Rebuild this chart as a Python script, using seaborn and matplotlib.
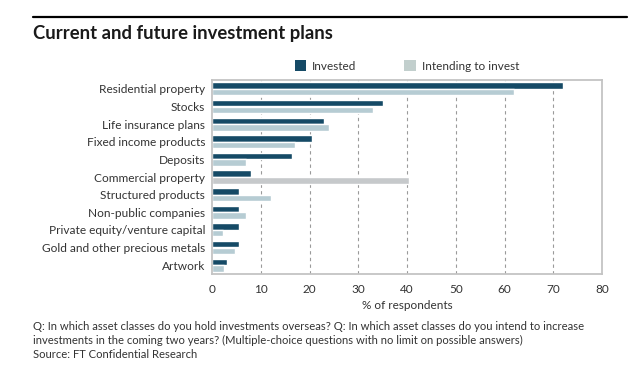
import numpy as np
import pandas as pd
import matplotlib
matplotlib.use("Agg")
import matplotlib.pyplot as plt
from matplotlib.patches import Patch
from matplotlib.lines import Line2D
import seaborn as sns

# Data
categories = ["Residential property", "Stocks", "Life insurance plans",
              "Fixed income products", "Deposits", "Commercial property",
              "Structured products", "Non-public companies",
              "Private equity/venture capital", "Gold and other precious metals",
              "Artwork"]
invested = [72, 35, 23, 20.5, 16.5, 8, 5.5, 5.5, 5.5, 5.5, 3]
intending = [62, 33, 24, 17, 7, 40.5, 12, 7, 2.2, 4.7, 2.5]
series = ["Invested", "Intending to invest"]

df = pd.DataFrame({
    "category": categories * 2,
    "value": invested + intending,
    "series": [series[0]] * len(categories) + [series[1]] * len(categories),
})

sns.set_style("white")
plt.rcParams["font.family"] = ["Lato", "DejaVu Sans"]

dark = "#154a66"
light = "#b6ccd3"
grey_hl = "#c6c9cb"
txt = "#333333"

fig = plt.figure(figsize=(6.4, 3.85), dpi=100)
ax = fig.add_axes([212 / 640, 1 - 274 / 385, 390 / 640, 194 / 385])

sns.barplot(data=df, y="category", x="value", hue="series", orient="h",
            palette=[dark, light], width=0.76, gap=0.04, saturation=1,
            legend=False, ax=ax)

# commercial property "intending" bar drawn in grey
ax.containers[1][categories.index("Commercial property")].set_facecolor(grey_hl)

ax.set_xlim(0, 80)
ax.set_xticks(range(0, 81, 10))
ax.set_ylabel("")
ax.set_xlabel("% of respondents", fontsize=8.5, color=txt, labelpad=4)
ax.tick_params(axis="x", length=0, labelsize=8.5, labelcolor=txt, pad=7)
ax.tick_params(axis="y", length=0, labelsize=8.6, labelcolor=txt, pad=5)

for x in range(10, 80, 10):
    ax.axvline(x, color="#9a9a9a", linestyle=(0, (3, 3)), linewidth=0.8, zorder=0)

for s in ax.spines.values():
    s.set_color("#c4c4c4")
    s.set_linewidth(1.3)

# Title and rule
fig.add_artist(Line2D([33 / 640, 627 / 640], [1 - 17 / 385] * 2,
                      color="black", linewidth=1.6))
fig.text(33 / 640, 1 - 34 / 385, "Current and future investment plans",
         fontsize=13.3, fontweight="bold", color="#1a1a1a", va="center")

# Legend
handles = [Patch(facecolor=dark, edgecolor="none"),
           Patch(facecolor="#c2cfcd", edgecolor="none")]
fig.legend(handles, series, loc="center left",
           bbox_to_anchor=(284 / 640, 1 - 66 / 385), ncol=2, frameon=False,
           fontsize=8.5, handlelength=1.0, handleheight=1.0, handletextpad=0.5,
           columnspacing=4.0, labelcolor=txt)

# Footnote
notes = ["Q: In which asset classes do you hold investments overseas? Q: In which asset classes do you intend to increase",
         "investments in the coming two years? (Multiple-choice questions with no limit on possible answers)",
         "Source: FT Confidential Research"]
for i, line in enumerate(notes):
    fig.text(33 / 640, 1 - (327 + 13.5 * i) / 385, line, fontsize=8.1,
             color=txt, va="center")

fig.savefig("out.png", dpi=100)
